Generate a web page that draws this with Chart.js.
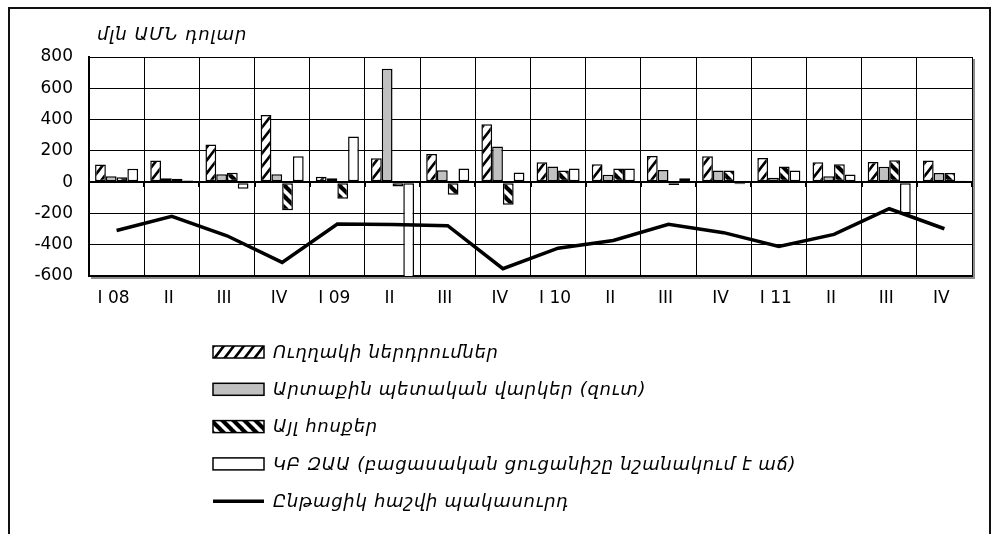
<!DOCTYPE html>
<html>
<head>
<meta charset="utf-8">
<script src="https://cdn.jsdelivr.net/npm/chart.js@4.4.1/dist/chart.umd.min.js"></script>
<style>
  html, body { margin: 0; padding: 0; background: #fff; }
  #wrap { position: relative; width: 994px; height: 534px; }
  canvas { display: block; }
</style>
</head>
<body>
<div id="wrap"><canvas id="c" width="994" height="534"></canvas></div>
<script>
// Quarterly balance of payments flows, million USD
const quarters = ['I 08', 'II', 'III', 'IV', 'I 09', 'II', 'III', 'IV', 'I 10', 'II', 'III', 'IV', 'I 11', 'II', 'III', 'IV'];
const directInvestment = [112, 138, 240, 430, 35, 152, 180, 370, 127, 115, 167, 166, 155, 127, 128, 138];
const publicLoans = [38, 25, 50, 50, 25, 725, 76, 228, 100, 48, 77, 74, 28, 37, 98, 59];
const otherFlows = [32, 22, 60, -180, -106, -28, -80, -145, 74, 88, -18, 74, 100, 115, 140, 58];
const cbNetForeignAssets = [86, 10, -42, 165, 292, -610, 88, 61, 88, 88, 25, -14, 75, 49, -200, 9];
const currentAccountDeficit = [-309, -219, -343, -513, -268, -270, -278, -553, -422, -373, -270, -323, -411, -334, -170, -298];

const yMin = -600, yMax = 800, yStep = 200;
const unitLabel = 'մլն ԱՄՆ դոլար';
const seriesNames = [
  'Ուղղակի ներդրումներ',
  'Արտաքին պետական վարկեր (զուտ)',
  'Այլ հոսքեր',
  'ԿԲ ԶԱԱ (բացասական ցուցանիշը նշանակում է աճ)',
  'Ընթացիկ հաշվի պակասուրդ'
];

// Diagonal hatch fills (tile w x h, stripe running corner to corner)
function stripes(direction, w, h, width) {
  const c = document.createElement('canvas');
  c.width = w; c.height = h;
  const g = c.getContext('2d');
  g.fillStyle = '#fff';
  g.fillRect(0, 0, w, h);
  g.strokeStyle = '#000';
  g.lineWidth = width;
  g.beginPath();
  for (let k = -1; k <= 1; k++) {
    const o = k * w;
    if (direction === 'up') {
      g.moveTo(o - w * 0.1, h * 1.1); g.lineTo(o + w * 1.1, -h * 0.1);
    } else {
      g.moveTo(o - w * 0.1, -h * 0.1); g.lineTo(o + w * 1.1, h * 1.1);
    }
  }
  g.stroke();
  return g.createPattern(c, 'repeat');
}

const ctx = document.getElementById('c').getContext('2d');
const upHatch = stripes('up', 10, 13, 2.6);
const downHatch = stripes('down', 11, 11, 4.2);

const FONT = '"DejaVu Sans", "Liberation Sans", sans-serif';

const decorations = {
  id: 'decorations',
  beforeDraw(chart) {
    const c = chart.ctx;
    c.save();
    c.fillStyle = '#fff';
    c.fillRect(0, 0, chart.width, chart.height);
    c.restore();
  },
  afterDraw(chart) {
    const c = chart.ctx;
    const a = chart.chartArea;
    const y = chart.scales.y;
    c.save();

    // plot area shadow
    c.fillStyle = '#8c8c8c';
    c.fillRect(a.right + 1, a.top + 2, 2, a.bottom - a.top + 1);
    c.fillRect(a.left + 2, a.bottom + 1, a.right - a.left + 1, 2);

    // small ticks under the zero line at category boundaries
    const y0 = Math.round(y.getPixelForValue(0));
    c.strokeStyle = '#000';
    c.lineWidth = 2;
    c.beginPath();
    for (let i = 0; i <= quarters.length; i++) {
      const px = Math.round(a.left + (a.right - a.left) * i / quarters.length);
      c.moveTo(px, y0);
      c.lineTo(px, y0 + 5);
    }
    c.stroke();

    // outer frame
    c.lineWidth = 2;
    c.strokeStyle = '#111';
    c.strokeRect(9, 8, 981, 545);

    // unit caption
    c.fillStyle = '#000';
    c.font = 'italic 18px ' + FONT;
    c.letterSpacing = '1px';
    c.textBaseline = 'alphabetic';
    c.textAlign = 'left';
    c.fillText(unitLabel, 97, 40);

    // legend
    const ds = chart.data.datasets;
    c.font = 'italic 18px ' + FONT;
    c.letterSpacing = '0.7px';
    ds.forEach((d, row) => {
      const cy = 352 + row * 37.3;
      if (d.type === 'line') {
        c.strokeStyle = '#000';
        c.lineWidth = 3.5;
        c.beginPath();
        c.moveTo(213, cy);
        c.lineTo(264, cy);
        c.stroke();
      } else {
        c.fillStyle = d.backgroundColor;
        c.fillRect(213, cy - 6, 51, 12);
        c.strokeStyle = '#000';
        c.lineWidth = 1.5;
        c.strokeRect(213, cy - 6, 51, 12);
      }
      c.fillStyle = '#000';
      c.textBaseline = 'middle';
      c.fillText(d.label, 273, cy + 1);
    });
    c.restore();
  }
};

const barCommon = {
  type: 'bar',
  borderColor: '#000',
  borderWidth: 1.5,
  borderSkipped: false,
  categoryPercentage: 0.78,
  barPercentage: 1.0,
  order: 1
};

new Chart(ctx, {
  data: {
    labels: quarters,
    datasets: [
      Object.assign({}, barCommon, { label: seriesNames[0], data: directInvestment, backgroundColor: upHatch }),
      Object.assign({}, barCommon, { label: seriesNames[1], data: publicLoans, backgroundColor: '#c0c0c0' }),
      Object.assign({}, barCommon, { label: seriesNames[2], data: otherFlows, backgroundColor: downHatch }),
      Object.assign({}, barCommon, { label: seriesNames[3], data: cbNetForeignAssets, backgroundColor: '#ffffff' }),
      {
        type: 'line',
        label: seriesNames[4],
        data: currentAccountDeficit,
        borderColor: '#000',
        backgroundColor: '#000',
        borderWidth: 3.5,
        pointRadius: 0,
        tension: 0,
        fill: false,
        order: 0
      }
    ]
  },
  options: {
    responsive: false,
    animation: false,
    events: [],
    layout: { padding: { left: 0, top: 57, right: 22, bottom: 218 } },
    plugins: {
      legend: { display: false },
      title: { display: false },
      tooltip: { enabled: false }
    },
    scales: {
      x: {
        offset: true,
        grid: { display: true, offset: true, color: '#000', lineWidth: 1, drawTicks: false },
        border: { display: true, color: '#000', width: 2 },
        ticks: { color: '#000', font: { family: FONT, size: 17 }, padding: 12, maxRotation: 0, autoSkip: false, labelOffset: -3 },
        afterFit(s) { s.height = 40; }
      },
      y: {
        min: yMin,
        max: yMax,
        grid: {
          color: '#000',
          lineWidth: (c) => (c.tick && c.tick.value === 0 ? 2 : 1),
          drawTicks: false
        },
        border: { display: true, color: '#000', width: 2 },
        ticks: { stepSize: yStep, color: '#000', font: { family: FONT, size: 17 }, padding: 16 },
        afterFit(s) { s.width = 89; }
      }
    }
  },
  plugins: [decorations]
});
</script>
</body>
</html>
